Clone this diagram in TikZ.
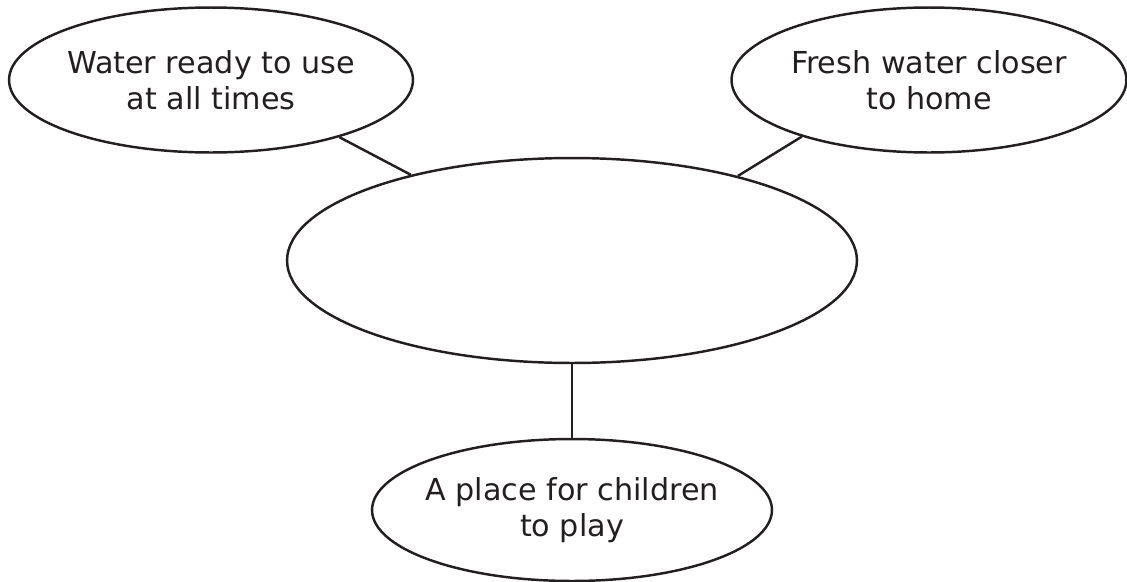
\documentclass[tikz,border=0pt]{standalone}
\usepackage{fontspec}
\setmainfont{DejaVu Sans}
\usetikzlibrary{shapes.geometric}

\definecolor{ink}{HTML}{231F20}

\begin{document}
\begin{tikzpicture}[x=0.02cm, y=-0.02cm,
    bubble/.style={draw=ink, line width=1.4pt, ellipse, inner sep=0pt},
    bubbletext/.style={align=center, text=ink, font=\fontsize{17.2}{20.5}\selectfont},
    link/.style={draw=ink, line width=1.4pt}]
    \useasboundingbox (0,0) rectangle (1127,582);

    \node[bubble, minimum width=8.08cm, minimum height=2.9cm,
        label={[bubbletext]center:Water ready to use\\at all times}] (ready) at (211,80) {};
    \node[bubble, minimum width=7.9cm, minimum height=2.9cm,
        label={[bubbletext]center:Fresh water closer\\to home}] (fresh) at (929,80) {};
    \node[bubble, minimum width=11.4cm, minimum height=4.1cm] (hub) at (572,260.5) {};
    \node[bubble, minimum width=8.0cm, minimum height=2.84cm,
        label={[bubbletext]center:A place for children\\to play}] (play) at (572,510) {};

    \draw[link] (ready.-24) -- (hub.152.6);
    \draw[link] (fresh.-156) -- (hub.27.4);
    \draw[link] (hub.south) -- (play.north);
\end{tikzpicture}
\end{document}
